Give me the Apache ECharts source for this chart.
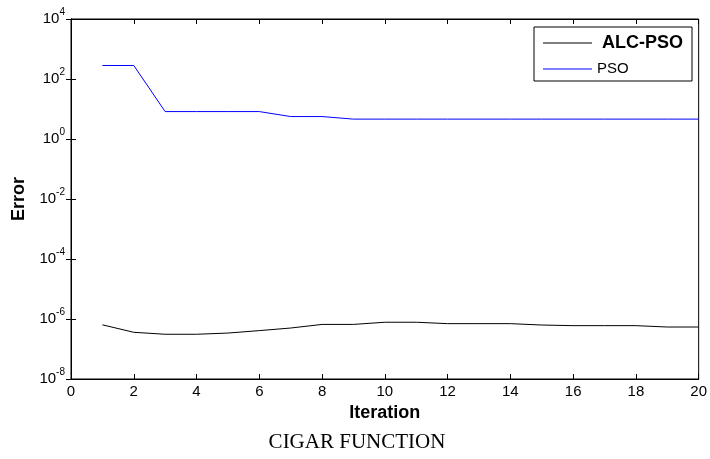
<!DOCTYPE html>
<html>
<head>
<meta charset="utf-8">
<script src="https://cdn.jsdelivr.net/npm/echarts@6/dist/echarts.min.js"></script>
<style>
html,body{margin:0;padding:0;background:#fff;}
#chart{width:710px;height:459px;}
</style>
</head>
<body>
<div id="chart"></div>
<script>
// Data
var iterations = [1,2,3,4,5,6,7,8,9,10,11,12,13,14,15,16,17,18,19,20];
var alcPso = [6.4e-7,3.6e-7,3.1e-7,3.1e-7,3.4e-7,4.1e-7,5.0e-7,6.6e-7,6.6e-7,7.8e-7,7.8e-7,7.0e-7,7.0e-7,7.0e-7,6.3e-7,6.0e-7,6.0e-7,6.0e-7,5.4e-7,5.4e-7];
var pso = [282,282,8.2,8.2,8.2,8.2,5.6,5.6,4.6,4.6,4.6,4.6,4.6,4.6,4.6,4.6,4.6,4.6,4.6,4.6];
var xTicks = [0,2,4,6,8,10,12,14,16,18,20];
var yMin = 1e-8, yMax = 1e4;

function pairs(xs, ys){ return xs.map(function(x,i){ return [x, ys[i]]; }); }

var chart = echarts.init(document.getElementById('chart'), null, {renderer:'canvas'});
var fontSans = 'Liberation Sans, Arial, sans-serif';
var yLabel = {
  show: true,
  margin: 6,
  color: '#000',
  fontFamily: fontSans,
  formatter: function(v){
    var e = Math.round(Math.log10(v));
    return '{b|10}{s|' + e + '}';
  },
  rich: {
    b: {fontSize: 15, lineHeight: 16, fontFamily: fontSans, color:'#000', verticalAlign:'middle'},
    s: {fontSize: 10, lineHeight: 10, fontFamily: fontSans, color:'#000', padding:[0,0,14,0], verticalAlign:'middle'}
  }
};
var option = {
  animation: false,
  backgroundColor: '#fff',
  title: {
    text: 'CIGAR FUNCTION',
    left: 352, top: 427, textAlign: 'center',
    textStyle: {fontFamily: 'Liberation Serif, Times New Roman, serif', fontSize: 21, fontWeight: 'normal', color: '#000'}
  },
  grid: {left: 71, right: 7, top: 19, bottom: 80, show: true, borderColor: '#000', borderWidth: 1, backgroundColor:'#fff'},
  legend: {
    left: 534, top: 27, orient: 'vertical',
    borderColor: '#000', borderWidth: 1, borderRadius: 0,
    padding: [6, 9, 3, 9], itemGap: 7, itemWidth: 49, itemHeight: 1,
    icon: 'rect',
    backgroundColor: '#fff',
    data: [
      {name: 'ALC-PSO', textStyle: {fontFamily: fontSans, fontSize: 18, fontWeight: 'bold', color: '#000', lineHeight: 20, padding:[0,0,0,5]}},
      {name: 'PSO', textStyle: {fontFamily: fontSans, fontSize: 15, fontWeight: 'normal', color: '#000', lineHeight: 18}}
    ]
  },
  xAxis: [{
    type: 'value', min: 0, max: 20, interval: 2,
    name: 'Iteration', nameLocation: 'middle', nameGap: 23,
    nameTextStyle: {fontFamily: fontSans, fontSize: 18, fontWeight: 'bold', color: '#000'},
    axisLine: {show: true, lineStyle: {color: '#000', width: 1}},
    axisTick: {show: true, inside: true, length: 5, lineStyle: {color: '#000'}},
    axisLabel: {show: true, margin: 5, fontFamily: fontSans, fontSize: 15, color: '#000',
      formatter: function(v){ return xTicks.indexOf(v) >= 0 ? String(v) : ''; }},
    splitLine: {show: false}
  },{
    type: 'value', min: 0, max: 20, interval: 2, position: 'top',
    axisLine: {show: true, lineStyle: {color: '#000'}},
    axisTick: {show: true, inside: true, length: 5, lineStyle: {color: '#000'}},
    axisLabel: {show: false}, splitLine: {show: false}
  }],
  yAxis: [{
    type: 'log', logBase: 10, min: yMin, max: yMax, interval: 2,
    name: 'Error', nameLocation: 'middle', nameGap: 40,
    nameTextStyle: {fontFamily: fontSans, fontSize: 18, fontWeight: 'bold', color: '#000'},
    axisLine: {show: true, lineStyle: {color: '#000', width: 1}},
    axisTick: {show: true, inside: true, length: 5, lineStyle: {color: '#000'}},
    minorTick: {show: false},
    axisLabel: yLabel,
    splitLine: {show: false}
  },{
    type: 'log', logBase: 10, min: yMin, max: yMax, interval: 2, position: 'right',
    axisLine: {show: true, lineStyle: {color: '#000'}},
    axisTick: {show: true, inside: true, length: 5, lineStyle: {color: '#000'}},
    axisLabel: {show: false}, splitLine: {show: false}
  }],
  series: [{
    name: 'ALC-PSO', type: 'line', xAxisIndex: 0, yAxisIndex: 0,
    data: pairs(iterations, alcPso), symbol: 'none', smooth: false,
    lineStyle: {color: '#000', width: 1}, itemStyle: {color: '#000'}
  },{
    name: 'PSO', type: 'line', xAxisIndex: 0, yAxisIndex: 0,
    data: pairs(iterations, pso), symbol: 'none', smooth: false,
    lineStyle: {color: '#0000ff', width: 1}, itemStyle: {color: '#0000ff'}
  }]
};
chart.setOption(option);
</script>
</body>
</html>
